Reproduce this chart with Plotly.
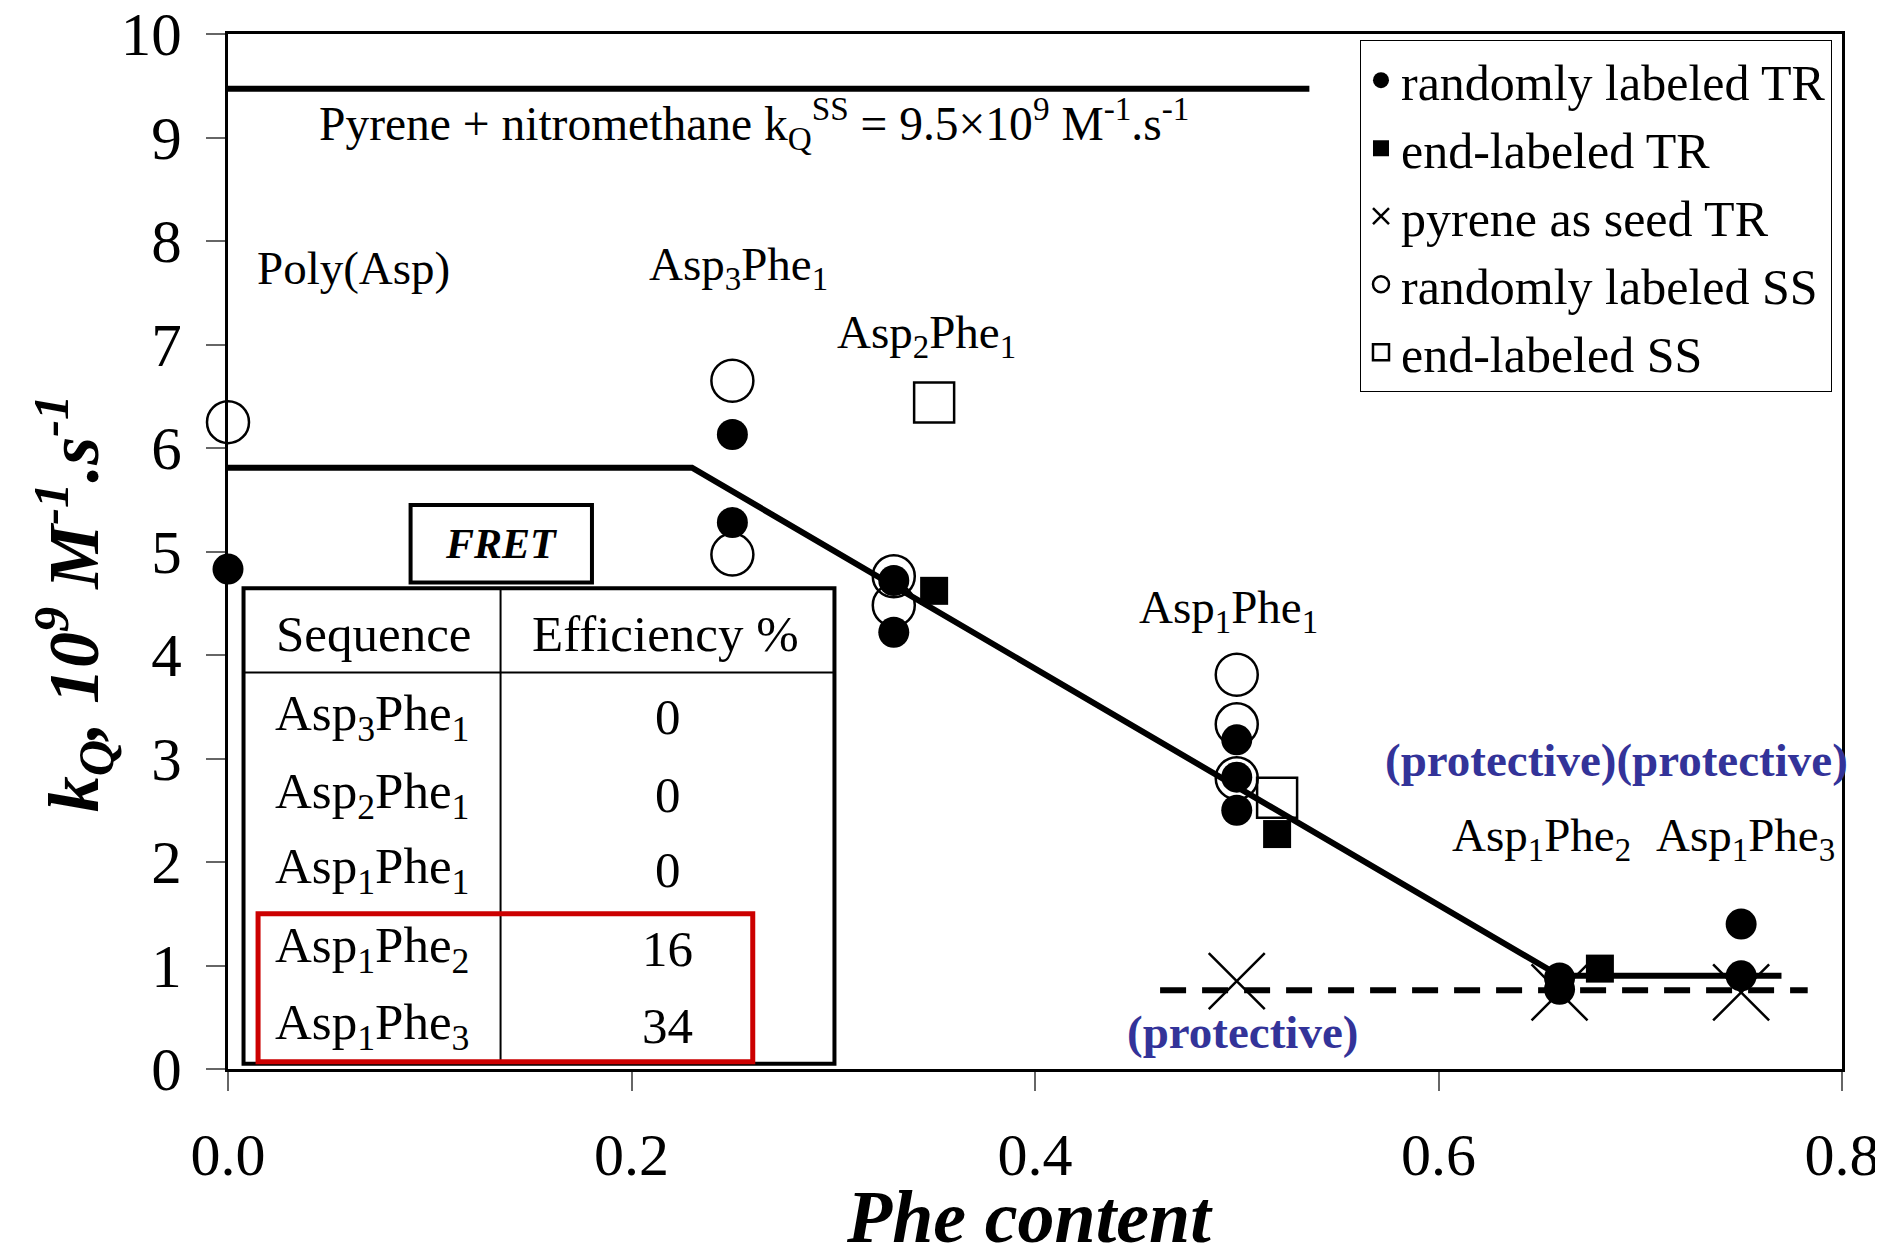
import plotly.graph_objects as go

FONT = "Liberation Serif"
BLUE = "#333399"

# ---- data ----
rand_TR_x = [0.0, 0.25, 0.25, 0.33, 0.33, 0.50, 0.50, 0.50, 0.66, 0.66, 0.75, 0.75]
rand_TR_y = [4.83, 6.13, 5.28, 4.72, 4.22, 3.18, 2.82, 2.50, 0.88, 0.77, 1.40, 0.90]

end_TR_x = [0.35, 0.52, 0.68]
end_TR_y = [4.62, 2.27, 0.97]

seed_TR_x = [0.50, 0.66, 0.75]
seed_TR_y = [0.85, 0.74, 0.74]

rand_SS_x = [0.0, 0.25, 0.25, 0.33, 0.33, 0.50, 0.50, 0.50]
rand_SS_y = [6.25, 6.65, 4.97, 4.76, 4.48, 3.81, 3.33, 2.81]

end_SS_x = [0.35, 0.52]
end_SS_y = [6.44, 2.62]

limit_x = [0.0, 0.536]
limit_y = [9.47, 9.47]

fit_x = [0.0, 0.23, 0.66, 0.77]
fit_y = [5.81, 5.81, 0.90, 0.90]

prot_x = [0.462, 0.783]
prot_y = [0.76, 0.76]

fret_sequences = ["Asp<sub>3</sub>Phe<sub>1</sub>", "Asp<sub>2</sub>Phe<sub>1</sub>",
                  "Asp<sub>1</sub>Phe<sub>1</sub>", "Asp<sub>1</sub>Phe<sub>2</sub>",
                  "Asp<sub>1</sub>Phe<sub>3</sub>"]
fret_efficiency = ["0", "0", "0", "16", "34"]

x_ticks = [0.0, 0.2, 0.4, 0.6, 0.8]
y_ticks = list(range(0, 11))

fig = go.Figure()

# SS first (drawn below), legend order set by legendrank
fig.add_trace(go.Scatter(x=rand_SS_x, y=rand_SS_y, mode="markers", name="randomly labeled SS",
                         legendrank=4, cliponaxis=False,
                         marker=dict(symbol="circle-open", size=42, color="black", line=dict(width=2.5))))
fig.add_trace(go.Scatter(x=end_SS_x, y=end_SS_y, mode="markers", name="end-labeled SS",
                         legendrank=5, cliponaxis=False,
                         marker=dict(symbol="square-open", size=40, color="black", line=dict(width=2.5))))
fig.add_trace(go.Scatter(x=rand_TR_x, y=rand_TR_y, mode="markers", name="randomly labeled TR",
                         legendrank=1, cliponaxis=False,
                         marker=dict(symbol="circle", size=31, color="black")))
fig.add_trace(go.Scatter(x=end_TR_x, y=end_TR_y, mode="markers", name="end-labeled TR",
                         legendrank=2, cliponaxis=False,
                         marker=dict(symbol="square", size=28, color="black")))
fig.add_trace(go.Scatter(x=seed_TR_x, y=seed_TR_y, mode="markers", name="pyrene as seed TR",
                         legendrank=3, cliponaxis=False,
                         marker=dict(symbol="x-thin-open", size=56, color="black", line=dict(width=2.5))))

# lines
fig.add_trace(go.Scatter(x=limit_x, y=limit_y, mode="lines", showlegend=False,
                         line=dict(color="black", width=6)))
fig.add_trace(go.Scatter(x=fit_x, y=fit_y, mode="lines", showlegend=False,
                         line=dict(color="black", width=6)))
fig.add_trace(go.Scatter(x=prot_x, y=prot_y, mode="lines", showlegend=False,
                         line=dict(color="black", width=6, dash="26px,16px")))

annotations = []
def txt(x, y, s, size=47, color="black", xanchor="center", bold=False):
    if bold:
        s = "<b>" + s + "</b>"
    annotations.append(dict(x=x, y=y, xref="x", yref="y", text=s, showarrow=False,
                            xanchor=xanchor, yanchor="middle",
                            font=dict(family=FONT, size=size, color=color)))

txt(0.044, 9.14, "Pyrene + nitromethane k<sub>Q</sub><sup>SS</sup> = 9.5×10<sup>9</sup> M<sup>-1</sup>.s<sup>-1</sup>",
    size=47.5, xanchor="left")
txt(0.062, 7.74, "Poly(Asp)")
txt(0.253, 7.74, "Asp<sub>3</sub>Phe<sub>1</sub>")
txt(0.346, 7.09, "Asp<sub>2</sub>Phe<sub>1</sub>")
txt(0.496, 4.43, "Asp<sub>1</sub>Phe<sub>1</sub>")
txt(0.651, 2.23, "Asp<sub>1</sub>Phe<sub>2</sub>")
txt(0.752, 2.23, "Asp<sub>1</sub>Phe<sub>3</sub>")
txt(0.688, 2.99, "(protective)(protective)", color=BLUE, bold=True)
txt(0.503, 0.36, "(protective)", color=BLUE, bold=True)

# FRET table
tab_x0, tab_x1, tab_div = 0.0077, 0.3006, 0.1351
tab_y0, tab_y1, tab_head = 0.05, 4.645, 3.83
row_y = [3.40, 2.65, 1.92, 1.16, 0.42]
txt(0.0720, 4.20, "Sequence", size=51)
txt(0.2167, 4.20, "Efficiency %", size=51)
for seq, eff, yy in zip(fret_sequences, fret_efficiency, row_y):
    txt(0.0714, yy, seq, size=51)
    txt(0.2180, yy, eff, size=51)
txt(0.1354, 5.07, "<i>FRET</i>", size=42, bold=True)

# axis titles
annotations.append(dict(x=-0.096, y=0.45, xref="paper", yref="paper", showarrow=False,
                        textangle=-90, xanchor="center", yanchor="middle",
                        text="<b><i>k<sub>Q</sub>, 10<sup>9</sup> M<sup>-1</sup>.s<sup>-1</sup></i></b>",
                        font=dict(family=FONT, size=72, color="black")))
annotations.append(dict(x=0.4963, y=-0.101, xref="paper", yref="paper", showarrow=False,
                        xanchor="center", yanchor="top",
                        text="<b><i>Phe content</i></b>",
                        font=dict(family=FONT, size=74, color="black")))

shapes = [
    dict(type="rect", xref="x", yref="y", x0=tab_x0, x1=tab_x1, y0=tab_y0, y1=tab_y1,
         line=dict(color="black", width=4), layer="below"),
    dict(type="line", xref="x", yref="y", x0=tab_x0, x1=tab_x1, y0=tab_head, y1=tab_head,
         line=dict(color="black", width=2)),
    dict(type="line", xref="x", yref="y", x0=tab_div, x1=tab_div, y0=tab_y0, y1=tab_y1,
         line=dict(color="black", width=2)),
    dict(type="rect", xref="x", yref="y", x0=0.0149, x1=0.2601, y0=0.07, y1=1.50,
         line=dict(color="#cc0000", width=5)),
    dict(type="rect", xref="x", yref="y", x0=0.0905, x1=0.1804, y0=4.70, y1=5.45,
         line=dict(color="black", width=4)),
]

# page body has an 8px default margin, so the figure is sized/offset to fit the window
fig.update_layout(
    width=1875, height=1236,
    margin=dict(l=220, r=41, t=26, b=175),
    paper_bgcolor="white", plot_bgcolor="white",
    font=dict(family=FONT, size=58, color="black"),
    showlegend=True,
    legend=dict(x=0.9938, y=0.994, xanchor="right", yanchor="top",
                bgcolor="white", bordercolor="black", borderwidth=1,
                font=dict(family=FONT, size=50, color="black"),
                itemsizing="trace", tracegroupgap=0),
    annotations=annotations,
    shapes=shapes,
    xaxis=dict(range=[0, 0.8], tickvals=x_ticks, tickformat=".1f", automargin=False,
               ticks="outside", ticklen=19, tickwidth=1.5, tickcolor="#666666",
               ticklabelstandoff=12, ticklabeloverflow="allow",
               showline=True, linecolor="black", linewidth=3, mirror=True,
               showgrid=False, zeroline=False,
               tickfont=dict(family=FONT, size=60)),
    yaxis=dict(range=[0, 10], tickvals=y_ticks, automargin=False,
               ticks="outside", ticklen=19, tickwidth=1.5, tickcolor="#666666",
               ticklabelstandoff=12, ticklabeloverflow="allow",
               showline=True, linecolor="black", linewidth=3, mirror=True,
               showgrid=False, zeroline=False,
               tickfont=dict(family=FONT, size=61)),
)

fig.write_html("out.html")
